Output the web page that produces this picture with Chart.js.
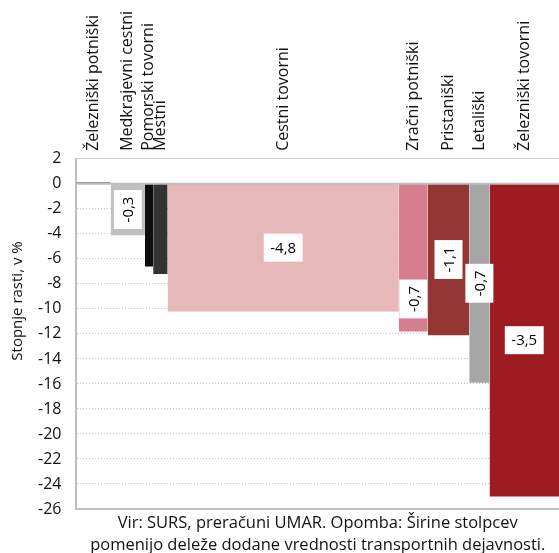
<!DOCTYPE html>
<html><head><meta charset="utf-8">
<script src="https://cdn.jsdelivr.net/npm/chart.js@4.4.1/dist/chart.umd.min.js"></script>
<style>html,body{margin:0;padding:0;background:#fff;}canvas{display:block}</style>
</head><body>
<canvas id="c" width="559" height="553"></canvas>
<script>
// ---- data ----
const categories = ["Železniški potniški","Medkrajevni cestni","Pomorski tovorni","Mestni","Cestni tovorni","Zračni potniški","Pristaniški","Letališki","Železniški tovorni"];
const shares = [7.1, 7.1, 1.7, 3.0, 47.9, 6.0, 8.6, 4.2, 14.4];          // bar widths (% of value added)
const growth = [0.1, -4.1, -6.6, -7.2, -10.2, -11.8, -12.1, -15.9, -25.0]; // growth rates, %
const contributions = ["", "-0,3", "", "", "-4,8", "-0,7", "-1,1", "-0,7", "-3,5"];
const yTicks = [2, 0, -2, -4, -6, -8, -10, -12, -14, -16, -18, -20, -22, -24, -26];
const footer = ["Vir: SURS, preračuni UMAR. Opomba: Širine stolpcev", "pomenijo deleže dodane vrednosti transportnih dejavnosti."];
const yTitle = "Stopnje rasti, v %";

// ---- styles ----
const colors = ["#262626","#bfbfbf","#0d0d0d","#333333","#e6b9b8","#d67d8e","#943634","#a6a6a6","#9c1c22"];
const labelRotated = [false,true,false,false,false,true,true,true,false];
const labelDepth = [0.5,0.5,0.5,0.5,0.5,0.78,0.5,0.5,0.5];
const FONT = '"Open Sans", "Noto Sans", sans-serif';

// cumulative edges
const starts = [], ends = [], centers = [];
let acc = 0;
shares.forEach(s => { starts.push(acc); centers.push(acc + s / 2); acc += s; ends.push(acc); });

const datasets = categories.map((c, i) => ({
  label: c,
  data: [{x: starts[i], y: 0}, {x: starts[i], y: growth[i]}, {x: ends[i], y: growth[i]}, {x: ends[i], y: 0}],
  backgroundColor: colors[i],
  borderColor: 'rgba(0,0,0,0)',
  borderWidth: 0,
  pointRadius: 0,
  fill: 'origin',
  tension: 0,
  order: 2
}));
datasets.push({
  label: 'zero',
  data: [{x: 0, y: 0}, {x: acc, y: 0}],
  borderColor: '#bfbfbf',
  borderWidth: 2,
  pointRadius: 0,
  fill: false,
  order: 0
});

const valueLabels = {
  id: 'valueLabels',
  afterDatasetsDraw(chart) {
    const {ctx, scales: {x, y}} = chart;
    ctx.save();
    ctx.font = '15px ' + FONT;
    ctx.textAlign = 'center';
    ctx.textBaseline = 'middle';
    contributions.forEach((t, i) => {
      if (!t) return;
      const cx = x.getPixelForValue(centers[i]);
      const cy = y.getPixelForValue(growth[i] * labelDepth[i]);
      const tw = ctx.measureText(t).width;
      const bw = tw + 13, bh = 28;
      ctx.save();
      ctx.translate(cx, cy);
      if (labelRotated[i]) ctx.rotate(-Math.PI / 2);
      ctx.fillStyle = '#fff';
      ctx.fillRect(-bw / 2, -bh / 2, bw, bh);
      ctx.fillStyle = '#000';
      ctx.fillText(t, 0, 1);
      ctx.restore();
    });
    ctx.restore();
  }
};

const yTitlePlugin = {
  id: 'yTitlePlugin',
  afterDraw(chart) {
    const {ctx} = chart;
    ctx.save();
    ctx.font = '15px ' + FONT;
    ctx.fillStyle = '#111';
    ctx.textAlign = 'center';
    ctx.textBaseline = 'middle';
    ctx.translate(18, 301);
    ctx.rotate(-Math.PI / 2);
    ctx.fillText(yTitle, 0, 0);
    ctx.restore();
  }
};

new Chart(document.getElementById('c'), {
  type: 'line',
  data: {datasets},
  plugins: [valueLabels, yTitlePlugin],
  options: {
    responsive: false,
    animation: false,
    events: [],
    layout: {padding: {left: 23, top: 3, right: 0, bottom: 0}},
    plugins: {
      legend: {display: false},
      tooltip: {enabled: false},
      title: {
        display: true, position: 'bottom', fullSize: false,
        text: footer, color: '#111',
        font: {family: FONT, size: 16.5, weight: 'normal', lineHeight: 1.333},
        padding: {top: 3, bottom: -3}
      }
    },
    scales: {
      x: {
        type: 'linear', min: 0, max: 100, position: 'bottom',
        ticks: {display: false},
        grid: {display: false, drawTicks: false},
        border: {display: true, color: '#bfbfbf', width: 2}
      },
      xTop: {
        type: 'linear', min: 0, max: 100, position: 'top',
        afterBuildTicks: a => { a.ticks = centers.map(v => ({value: v})); },
        ticks: {
          autoSkip: false, minRotation: 90, maxRotation: 90, padding: 8, labelOffset: 19,
          color: '#111', font: {family: FONT, size: 16},
          callback: (v, i) => categories[i]
        },
        grid: {display: false, drawTicks: false},
        border: {display: true, color: '#d0d0d0', width: 1}
      },
      y: {
        type: 'linear', min: -26, max: 2,
        afterBuildTicks: a => { a.ticks = yTicks.map(v => ({value: v})); },
        ticks: {padding: 15, color: '#111', font: {family: FONT, size: 16}, callback: v => String(v)},
        grid: {color: '#c4c4c4', drawTicks: false, lineWidth: 1},
        border: {display: true, color: '#bfbfbf', width: 2, dash: [1, 2]}
      }
    }
  }
});
</script>
</body></html>
